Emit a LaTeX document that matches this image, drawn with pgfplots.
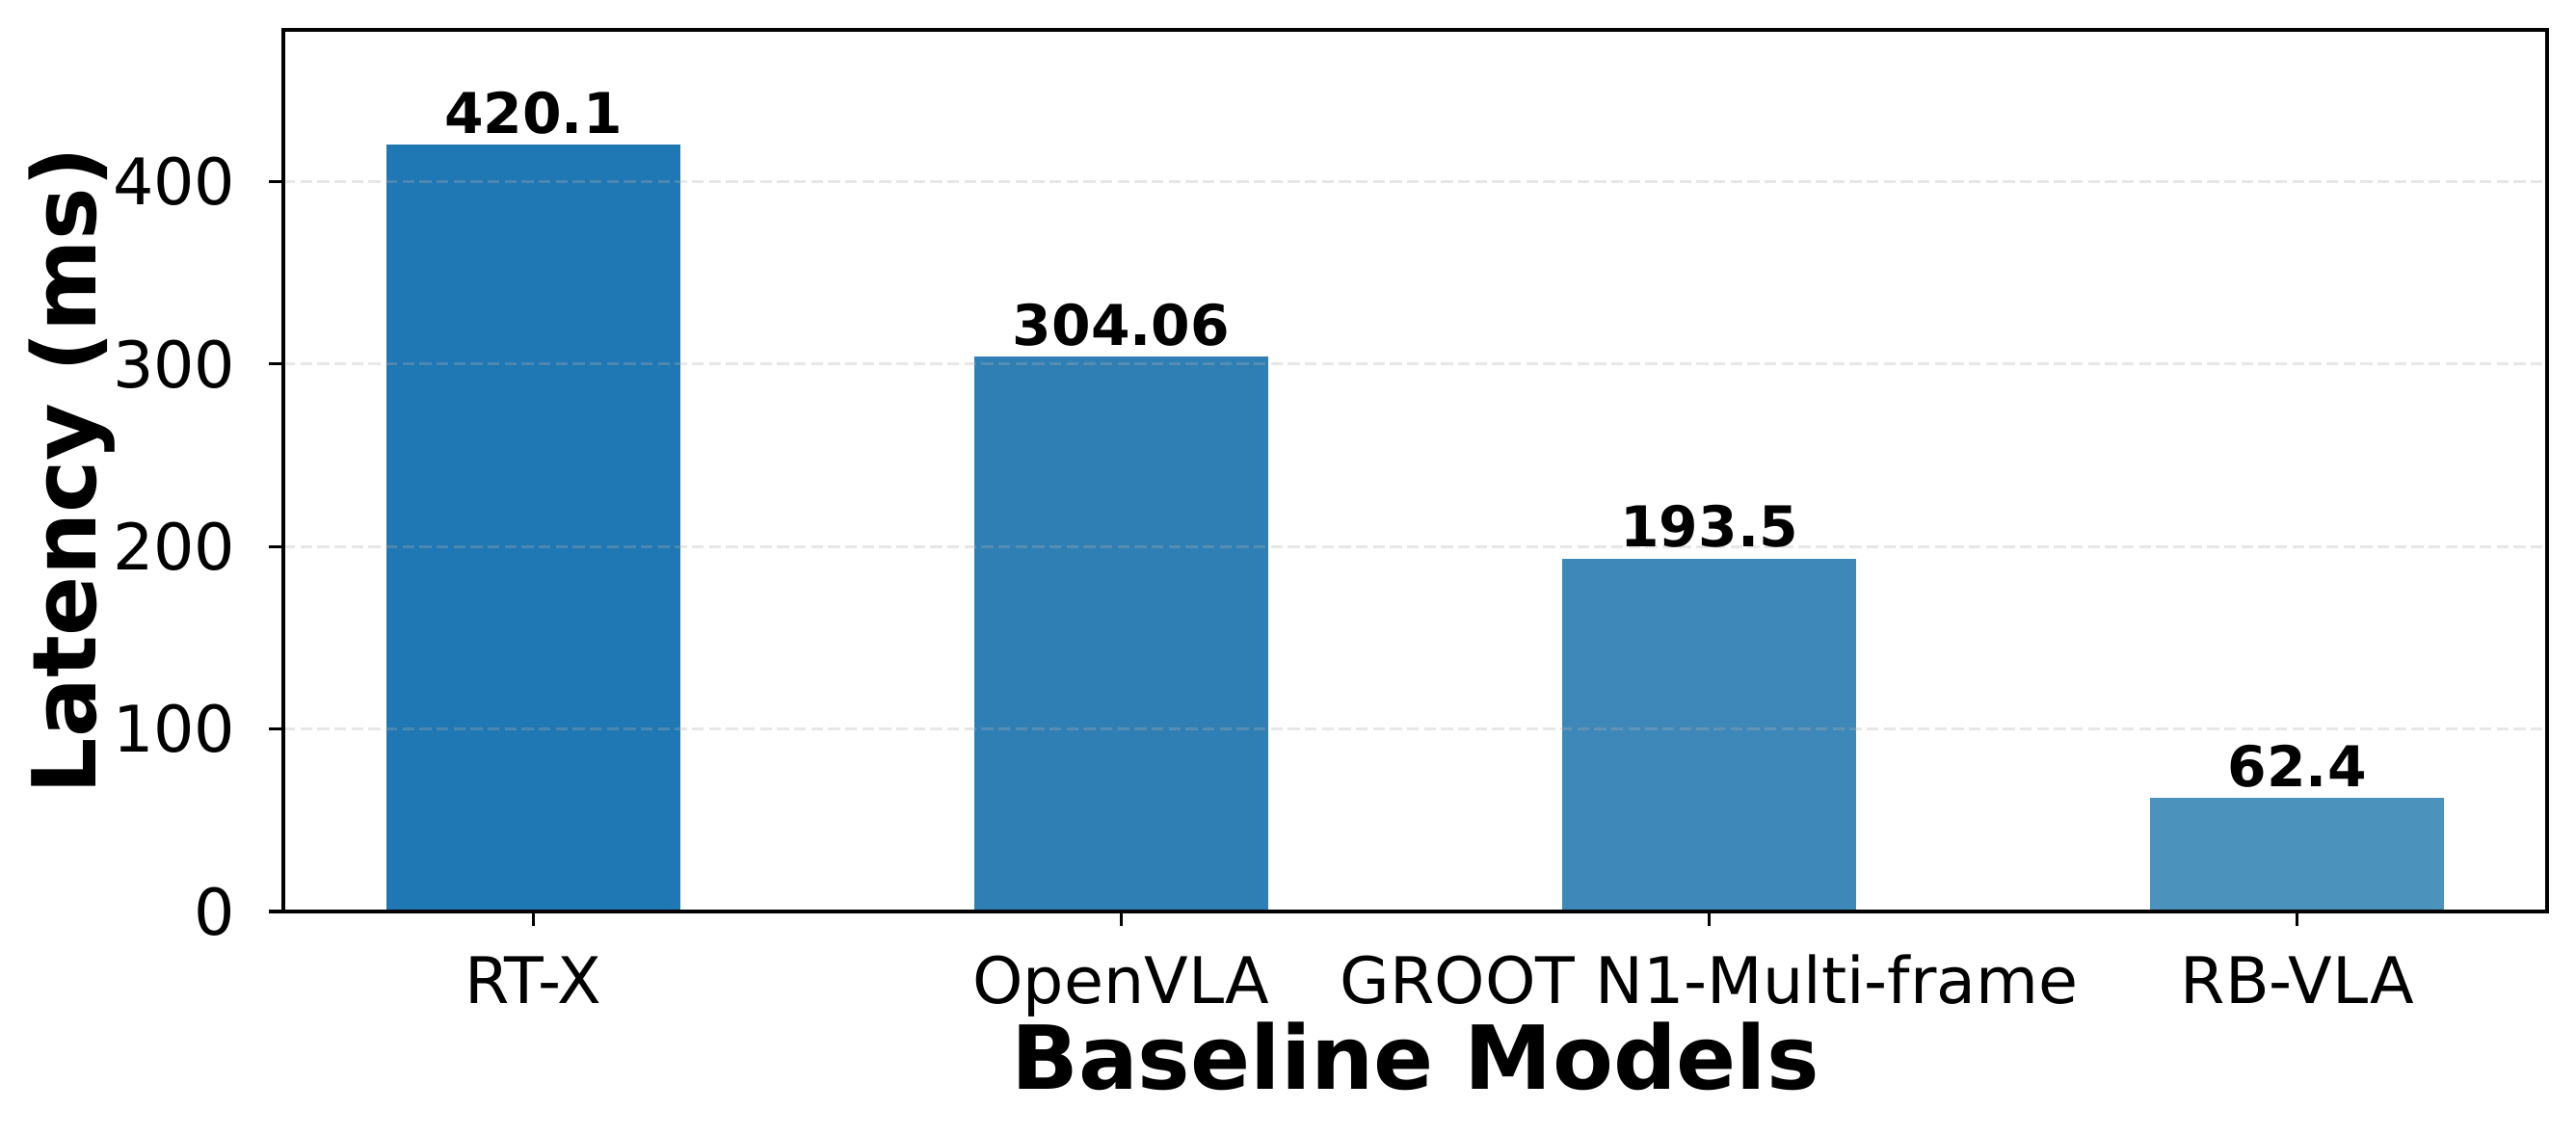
\documentclass[border=0pt]{standalone}
\usepackage{fontspec}
\setmainfont{DejaVu Sans}
\usepackage{pgfplots}
\pgfplotsset{compat=1.18}
\definecolor{barA}{RGB}{31,119,180}
\definecolor{barB}{RGB}{47,127,181}
\definecolor{barC}{RGB}{62,136,185}
\definecolor{barD}{RGB}{75,146,188}
\definecolor{gridc}{RGB}{176,176,176}

\begin{document}
\begin{tikzpicture}
\begin{axis}[
  scale only axis,
  width=563.76pt, height=219.6pt,
  xmin=-0.425, xmax=3.425,
  ymin=0, ymax=483.1,
  xtick={0,1,2,3},
  xticklabels={RT-X,OpenVLA,GROOT N1-Multi-frame,RB-VLA},
  ytick={0,100,200,300,400},
  xtick pos=lower, ytick pos=left,
  tick align=outside,
  major tick length=3.5pt,
  tick style={black, line width=0.8pt},
  axis line style={line width=0.8pt},
  ymajorgrids,
  major grid style={color=gridc, opacity=0.3, line width=0.8pt, dash pattern=on 2.96pt off 1.28pt},
  axis on top,
  /pgf/number format/assume math mode=true,
  tick label style={font=\fontsize{16}{19}\selectfont, inner sep=0pt},
  xticklabel style={anchor=base, yshift=-19.44pt},
  yticklabel style={anchor=east, xshift=-8.2pt},
  xlabel={\bfseries Baseline Models},
  ylabel={\bfseries Latency (ms)},
  xlabel style={font=\fontsize{22}{26}\selectfont, at={(axis description cs:0.5,-0.2011)}, anchor=base, inner sep=0pt},
  ylabel style={font=\fontsize{22}{26}\selectfont, at={(axis description cs:-0.0826,0.5)}, anchor=base, inner sep=0pt},
  ybar, bar width=0.5, bar shift=0pt,
  nodes near coords,
  point meta=explicit symbolic,
  nodes near coords style={font=\fontsize{14}{17}\selectfont\bfseries, anchor=base, inner sep=0pt, yshift=2.8pt, black},
]
\addplot[fill=barA, draw=none] coordinates {(0,420.1) [420.1]};
\addplot[fill=barB, draw=none] coordinates {(1,304.06) [304.06]};
\addplot[fill=barC, draw=none] coordinates {(2,193.5) [193.5]};
\addplot[fill=barD, draw=none] coordinates {(3,62.4) [62.4]};
\coordinate (sw) at (rel axis cs:0,0);
\coordinate (ne) at (rel axis cs:1,1);
\end{axis}
\pgfresetboundingbox
\path ([xshift=-70.56pt,yshift=-55.92pt]sw) rectangle ([xshift=7.2pt,yshift=7.44pt]ne);
\end{tikzpicture}
\end{document}
